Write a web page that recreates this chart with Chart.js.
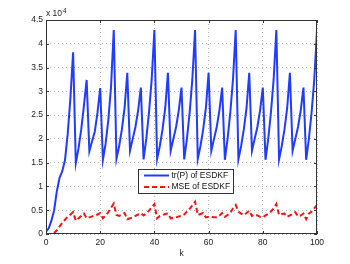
<!DOCTYPE html>
<html>
<head>
<meta charset="utf-8">
<script src="https://cdn.jsdelivr.net/npm/chart.js@4"></script>
<style>
  body { margin: 0; background: #fff; }
</style>
</head>
<body>
<canvas id="plot" width="350" height="264"></canvas>
<script>
// time step k
const steps = Array.from({ length: 101 }, (_, i) => i);

// tr(P) of ESDKF
const trP = [
    500, 1200, 2800, 5000, 9000, 11800, 13200, 15500, 21000, 28500, 38200,
    14900, 18000, 22000, 27000, 32400,
    17400, 19500, 21500, 25500, 30700,
    15600, 19000, 24000, 31000, 42900,
    15800, 18500, 22000, 26500, 33900,
    17500, 20000, 22500, 26000, 30800,
    15700, 20000, 25500, 32500, 42900,
    15800, 18500, 22000, 26500, 33900,
    17500, 20000, 22500, 26000, 30800,
    15700, 20000, 25500, 32500, 42900,
    15800, 18500, 22000, 26500, 33900,
    17500, 20000, 22500, 26000, 30800,
    15600, 20000, 25500, 32500, 42900,
    15700, 18500, 22000, 26500, 33900,
    17500, 20000, 22500, 26000, 30800,
    15600, 20000, 25500, 32500, 42900,
    15700, 18500, 22000, 26500, 33900,
    17500, 20000, 22500, 26000, 30800,
    15600, 20000, 25500, 32500, 42900
];

// MSE of ESDKF
const mse = [
    0, 0, 0, 200, 800, 1600, 2300, 3000, 3600, 4100, 4600,
    2800, 3300, 3800, 4300, 3300, 3500, 3700, 3900, 4100, 4400,
    3300, 3900, 4600, 5500, 6400, 4000, 3800, 4100, 4400, 3100,
    3300, 3500, 3800, 4100, 4400, 3900, 4300, 4900, 5600, 6300,
    3300, 3800, 4000, 4200, 4300, 3300, 3400, 3500, 3700, 3800,
    4100, 4700, 5300, 6000, 6800, 4000, 4200, 4400, 3500, 3600,
    3600, 3500, 3500, 3900, 4400, 3600, 4000, 4400, 5400, 6100,
    4700, 4300, 4000, 4400, 4900, 3800, 4100, 3900, 3600, 3500,
    3900, 4200, 4700, 5400, 6300, 4000, 4200, 4300, 3600, 3900,
    4200, 4600, 3700, 3900, 4300, 3100, 4300, 4700, 5400, 6100
];

const seriesNames = ['tr(P) of ESDKF', 'MSE of ESDKF'];
const yTickLabels = ['0', '0.5', '1', '1.5', '2', '2.5', '3', '3.5', '4', '4.5'];
const xTitle = 'k';

const fontFamily = '"Liberation Sans", Arial, sans-serif';
const axisColor = '#333333';

// box round the axes with inward tick marks, like the original
const framePlugin = {
    id: 'frame',
    afterDatasetsDraw(chart) {
        const { ctx, chartArea: a, scales } = chart;
        ctx.save();
        ctx.strokeStyle = axisColor;
        ctx.lineWidth = 1;
        ctx.strokeRect(a.left + 0.5, a.top + 0.5, a.right - a.left - 1, a.bottom - a.top - 1);
        ctx.beginPath();
        scales.x.ticks.forEach(t => {
            const px = Math.round(scales.x.getPixelForValue(t.value)) + 0.5;
            ctx.moveTo(px, a.bottom); ctx.lineTo(px, a.bottom - 3);
            ctx.moveTo(px, a.top); ctx.lineTo(px, a.top + 3);
        });
        scales.y.ticks.forEach(t => {
            const py = Math.round(scales.y.getPixelForValue(t.value)) + 0.5;
            ctx.moveTo(a.left, py); ctx.lineTo(a.left + 3, py);
            ctx.moveTo(a.right, py); ctx.lineTo(a.right - 3, py);
        });
        ctx.stroke();

        // exponent over the y axis
        ctx.fillStyle = '#222';
        ctx.textBaseline = 'middle';
        ctx.font = '8.5px ' + fontFamily;
        ctx.fillText('x 10', a.left, a.top - 6);
        const w = ctx.measureText('x 10').width;
        ctx.font = '6.5px ' + fontFamily;
        ctx.fillText('4', a.left + w + 1, a.top - 9);
        ctx.restore();
    }
};

// legend box inside the plot
const legendPlugin = {
    id: 'boxLegend',
    afterDraw(chart) {
        const { ctx } = chart;
        const x0 = 138, y0 = 169, w = 95, h = 24;
        ctx.save();
        ctx.fillStyle = '#fff';
        ctx.fillRect(x0, y0, w, h);
        ctx.strokeStyle = axisColor;
        ctx.lineWidth = 1;
        ctx.strokeRect(x0 + 0.5, y0 + 0.5, w, h);
        ctx.font = '8.5px ' + fontFamily;
        ctx.textBaseline = 'middle';
        chart.data.datasets.forEach((ds, i) => {
            const y = y0 + 6.5 + i * 11.5;
            ctx.strokeStyle = ds.borderColor;
            ctx.lineWidth = ds.borderWidth;
            ctx.setLineDash(ds.borderDash || []);
            ctx.beginPath();
            ctx.moveTo(x0 + 6, y);
            ctx.lineTo(x0 + 31, y);
            ctx.stroke();
            ctx.setLineDash([]);
            ctx.fillStyle = '#111';
            ctx.fillText(ds.label, x0 + 33.5, y);
        });
        ctx.restore();
    }
};

new Chart(document.getElementById('plot'), {
    type: 'line',
    data: {
        datasets: [
            {
                label: seriesNames[0],
                data: steps.map((k, i) => ({ x: k, y: trP[i] })),
                borderColor: '#1f3cff',
                borderWidth: 2,
                pointRadius: 0,
                tension: 0
            },
            {
                label: seriesNames[1],
                data: steps.map((k, i) => ({ x: k, y: mse[i] })),
                borderColor: '#ff1010',
                borderWidth: 2,
                borderDash: [5, 3],
                pointRadius: 0,
                tension: 0
            }
        ]
    },
    options: {
        responsive: false,
        animation: false,
        devicePixelRatio: 1,
        layout: {
            padding: { left: 0, right: 33, top: 20, bottom: 0 }
        },
        plugins: {
            legend: { display: false },
            tooltip: { enabled: false }
        },
        scales: {
            x: {
                type: 'linear',
                min: 0,
                max: 100,
                afterFit: s => { s.height = 30; },
                grid: {
                    color: '#b8b8b8',
                    drawTicks: false
                },
                border: { display: false, dash: [1, 3] },
                ticks: {
                    stepSize: 20,
                    padding: 4,
                    color: '#222',
                    font: { family: fontFamily, size: 8.5 }
                },
                title: {
                    display: true,
                    text: xTitle,
                    color: '#222',
                    padding: { top: 0, bottom: 5 },
                    font: { family: fontFamily, size: 8.5 }
                }
            },
            y: {
                min: 0,
                max: 45000,
                afterFit: s => { s.width = 46; },
                grid: {
                    color: '#b8b8b8',
                    drawTicks: false
                },
                border: { display: false, dash: [1, 3] },
                ticks: {
                    stepSize: 5000,
                    padding: 3,
                    color: '#222',
                    font: { family: fontFamily, size: 8.5 },
                    callback: (v, i) => yTickLabels[i]
                }
            }
        }
    },
    plugins: [framePlugin, legendPlugin]
});
</script>
</body>
</html>
